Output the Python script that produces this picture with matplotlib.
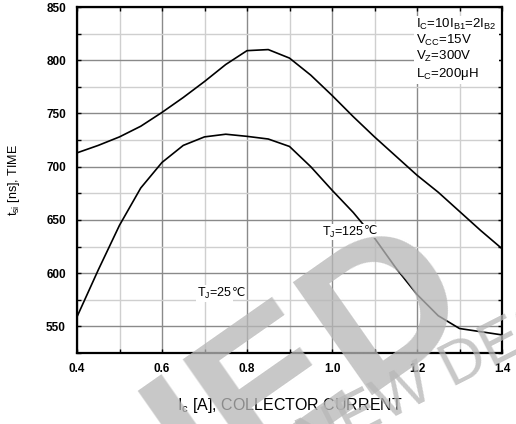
import matplotlib
matplotlib.use("Agg")
import matplotlib.pyplot as plt
from matplotlib.ticker import MultipleLocator

plt.rcParams['font.family'] = ['Liberation Sans', 'DejaVu Sans']
plt.rcParams['mathtext.fontset'] = 'custom'
plt.rcParams['mathtext.rm'] = 'Liberation Sans'
plt.rcParams['mathtext.it'] = 'Liberation Sans:italic'
plt.rcParams['mathtext.bf'] = 'Liberation Sans:bold'

# Data
ic = [0.40, 0.45, 0.50, 0.55, 0.60, 0.65, 0.70, 0.75, 0.80, 0.85, 0.90,
      0.95, 1.00, 1.05, 1.10, 1.15, 1.20, 1.25, 1.30, 1.35, 1.40]
tsi_upper = [713, 720, 728, 738, 751, 765, 780, 796, 809, 810, 802,
             786, 767, 747, 728, 710, 692, 676, 658, 640, 623]
tsi_lower = [559, 603, 645, 680, 704, 720, 728, 730.5, 728.5, 726, 719,
             700, 678, 657, 633, 605, 580, 560, 548, 545, 542]

x_ticks = [0.4, 0.6, 0.8, 1.0, 1.2, 1.4]
y_ticks = [550, 600, 650, 700, 750, 800, 850]
conditions = ['I$_\\mathregular{C}$=10I$_\\mathregular{B1}$=2I$_\\mathregular{B2}$',
              'V$_\\mathregular{CC}$=15V',
              'V$_\\mathregular{Z}$=300V',
              'L$_\\mathregular{C}$=200\u03bcH']
label_25 = ('T$_\\mathregular{J}$=25', '\u2103')
label_125 = ('T$_\\mathregular{J}$=125', '\u2103')
label_pos_25 = (0.682, 581)
label_pos_125 = (0.976, 638.5)

fig = plt.figure(figsize=(5.16, 4.24), dpi=100)
ax = fig.add_axes([77/516, 1-353/424, (502-77)/516, (353-7)/424])

ax.set_xlim(0.4, 1.4)
ax.set_ylim(525, 850)
ax.set_xticks(x_ticks)
ax.set_yticks(y_ticks)
ax.set_xticklabels(['%.1f' % v for v in x_ticks], fontweight='bold', fontsize=8.5)
ax.set_yticklabels([str(v) for v in y_ticks], fontweight='bold', fontsize=8.5)
ax.xaxis.set_minor_locator(MultipleLocator(0.1))
ax.yaxis.set_minor_locator(MultipleLocator(25))

ax.grid(which='major', color='#8a8a8a', linewidth=1.0, zorder=0)
ax.grid(which='minor', color='#cfcfcf', linewidth=1.0, zorder=0)
ax.set_axisbelow(True)
ax.tick_params(which='both', direction='in', length=3, width=1.0,
               top=True, right=True, colors='black')
ax.tick_params(axis='x', which='major', pad=7)
ax.tick_params(axis='y', which='major', pad=8)
for s in ax.spines.values():
    s.set_linewidth(1.6)

ax.plot(ic, tsi_upper, color='black', linewidth=1.2, zorder=3)
ax.plot(ic, tsi_lower, color='black', linewidth=1.2, zorder=3)

for (main, deg), pos in ((label_25, label_pos_25), (label_125, label_pos_125)):
    t1 = ax.text(pos[0], pos[1], main, fontsize=9, va='center', ha='left', zorder=4,
                 bbox=dict(facecolor='white', edgecolor='none', pad=0.5))
    ax.annotate(deg, xy=(1, 0), xycoords=t1, xytext=(0.2, 1.6),
                textcoords='offset points', fontsize=8.5, va='bottom', ha='left',
                family=['DejaVu Sans'], zorder=4,
                bbox=dict(facecolor='white', edgecolor='none', pad=0.5))

box_txt = '\n'.join(conditions)
ax.text(416/516, 1-17/424, box_txt, transform=fig.transFigure, fontsize=9.5,
        va='top', ha='left', linespacing=1.1, zorder=5,
        bbox=dict(facecolor='white', edgecolor='none', pad=1.5))

ax.set_xlabel('I$_\\mathregular{c}$ [A], COLLECTOR CURRENT', fontsize=11.5, labelpad=15)
ax.set_ylabel('t$_\\mathregular{si}$ [ns], TIME', fontsize=9, labelpad=17)

# watermark
wm_col = '#b7b7b7'
fig.text(312/516, 1-365/424, 'IED', fontsize=145, fontweight='bold', color=wm_col,
         alpha=0.77, rotation=35, ha='center', va='center', zorder=10)
fig.text(303/516, 1-447/424, 'NEW DESIGN', fontsize=44, color=wm_col,
         alpha=0.77, rotation=27, ha='left', va='center', zorder=10,
         rotation_mode='anchor')

fig.savefig('out.png', dpi=100)
